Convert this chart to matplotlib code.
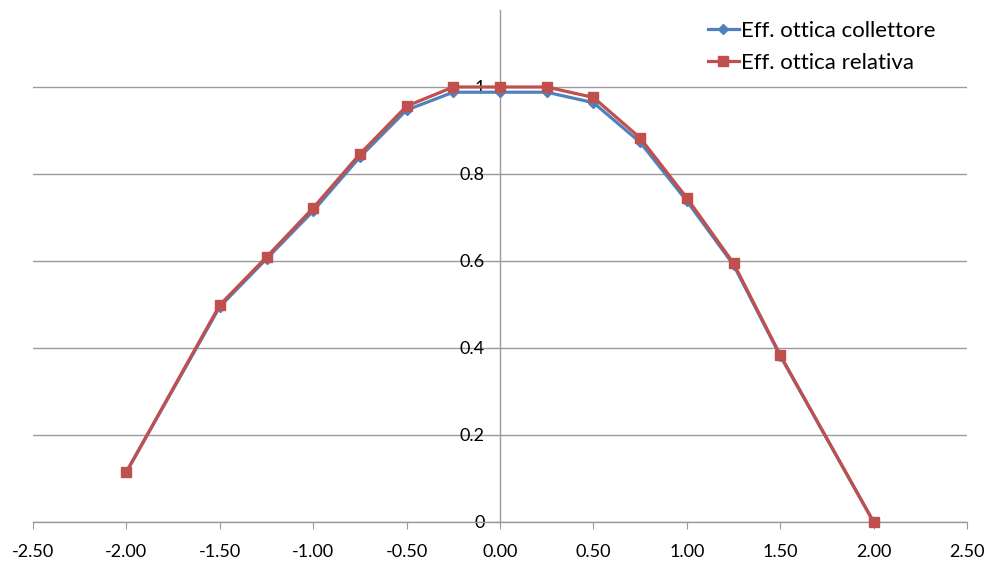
import matplotlib
matplotlib.use("Agg")
import matplotlib.pyplot as plt
from matplotlib.ticker import FuncFormatter, MultipleLocator

# Incidence offset and optical efficiency values
x_vals = [-2.0, -1.5, -1.25, -1.0, -0.75, -0.5, -0.25, 0.0, 0.25, 0.5, 0.75, 1.0, 1.25, 1.5, 2.0]
eff_collettore = [0.115, 0.495, 0.605, 0.715, 0.839, 0.947, 0.988, 0.988, 0.988, 0.964, 0.873, 0.738, 0.591, 0.382, 0.0]
eff_relativa = [0.115, 0.499, 0.609, 0.722, 0.846, 0.956, 1.0, 1.0, 1.0, 0.976, 0.883, 0.745, 0.595, 0.384, 0.0]
series_labels = ["Eff. ottica collettore", "Eff. ottica relativa"]

plt.rcParams['font.family'] = ['Lato', 'DejaVu Sans']

W, H = 988, 563
fig = plt.figure(figsize=(W / 100, H / 100), dpi=100)
ax = fig.add_axes([33 / W, (H - 522) / H, (967 - 33) / W, (522 - 10) / H])

blue = "#4F81BD"
red = "#C0504D"
grid_c = "#9a9a9a"

ax.plot(x_vals, eff_collettore, color=blue, lw=2.3, marker='D', ms=5.5,
        label=series_labels[0], zorder=3, clip_on=False)
ax.plot(x_vals, eff_relativa, color=red, lw=2.3, marker='s', ms=7,
        label=series_labels[1], zorder=4, clip_on=False)

ax.set_xlim(-2.5, 2.5)
ax.set_ylim(0, 1.177)
ax.xaxis.set_major_locator(MultipleLocator(0.5))
ax.set_yticks([0, 0.2, 0.4, 0.6, 0.8, 1.0])
ax.xaxis.set_major_formatter(FuncFormatter(lambda v, p: f"{v:.2f}"))
ax.yaxis.set_major_formatter(FuncFormatter(lambda v, p: f"{v:g}"))

ax.grid(axis='y', color=grid_c, lw=1.0)
ax.set_axisbelow(True)

for s in ['top', 'right']:
    ax.spines[s].set_visible(False)
ax.spines['left'].set_position(('data', 0))
ax.spines['left'].set_color(grid_c)
ax.spines['bottom'].set_color(grid_c)
ax.spines['left'].set_linewidth(1.0)
ax.spines['bottom'].set_linewidth(1.0)

ax.tick_params(axis='x', direction='out', length=5, color=grid_c, labelsize=13, pad=11)
ax.tick_params(axis='y', direction='out', length=5, color=grid_c, labelsize=13, pad=6)

leg = fig.legend(loc='upper left', bbox_to_anchor=(699 / W, 1 - 12 / H),
                 frameon=False, fontsize=16, handlelength=1.4, handletextpad=0.08,
                 labelspacing=0.55, borderaxespad=0)

fig.savefig("out.png", dpi=100)
